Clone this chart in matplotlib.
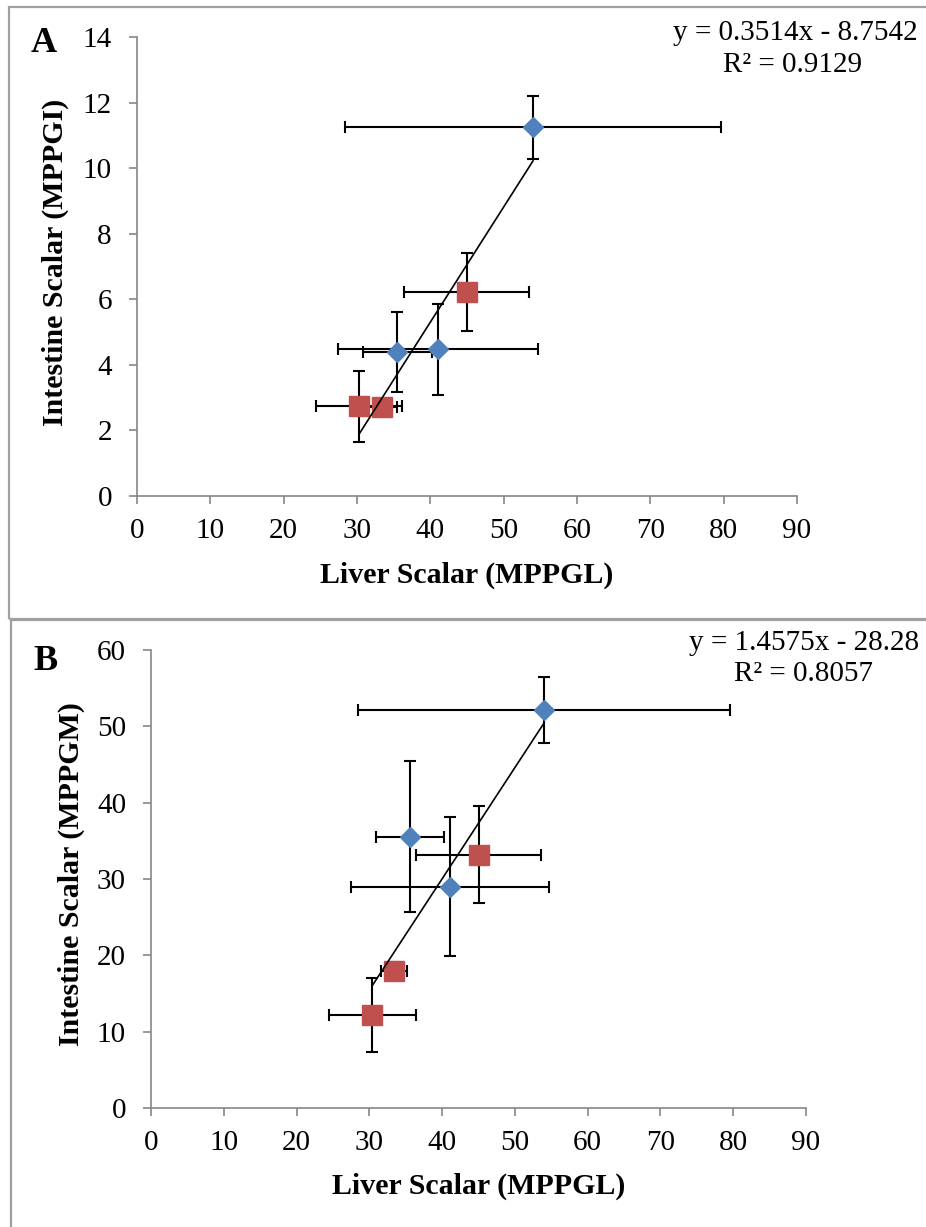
import matplotlib
matplotlib.use("Agg")
import matplotlib.pyplot as plt
from matplotlib.patches import Rectangle

plt.rcParams['font.family'] = ['Liberation Serif', 'DejaVu Serif']

# ---- data ----
# Panel A: Liver scalar (MPPGL) vs Intestine scalar (MPPGI)
a_blue_x = [54.0, 35.5, 41.05]
a_blue_xerr = [25.7, 4.7, 13.6]
a_blue_y = [11.24, 4.40, 4.47]
a_blue_yerr = [0.95, 1.22, 1.40]
a_red_x = [44.96, 30.3, 33.4]
a_red_xerr = [8.55, 5.9, 2.0]
a_red_y = [6.22, 2.74, 2.72]
a_red_yerr = [1.18, 1.08, 0.15]
a_slope, a_intercept = 0.3514, -8.7542
a_eq = ["y = 0.3514x - 8.7542", "R² = 0.9129"]

# Panel B: Liver scalar (MPPGL) vs Intestine scalar (MPPGM)
b_blue_x = [54.0, 35.6, 41.1]
b_blue_xerr = [25.6, 4.7, 13.6]
b_blue_y = [52.1, 35.55, 29.0]
b_blue_yerr = [4.3, 9.9, 9.15]
b_red_x = [45.0, 33.4, 30.4]
b_red_xerr = [8.6, 1.8, 5.95]
b_red_y = [33.2, 17.95, 12.2]
b_red_yerr = [6.3, 1.2, 4.85]
b_slope, b_intercept = 1.4575, -28.28
b_eq = ["y = 1.4575x - 28.28", "R² = 0.8057"]

x_ticks = list(range(0, 100, 10))
a_y_ticks = list(range(0, 16, 2))
b_y_ticks = list(range(0, 70, 10))

W, H = 926, 1227
fig = plt.figure(figsize=(W / 100, H / 100), dpi=100)

BLUE = '#4F81BD'
RED = '#C0504D'
AXC = '#868686'
BOXC = '#A0A0A0'

# panel frames
fig.add_artist(Rectangle((9 / W, 1 - 619 / H), 1.0, (619 - 7) / H, transform=fig.transFigure,
                         fill=False, edgecolor=BOXC, lw=1.6))
fig.add_artist(Rectangle((11 / W, -0.05), 1.0, 0.05 + 1 - 620 / H, transform=fig.transFigure,
                         fill=False, edgecolor=BOXC, lw=1.6))


def make_axes(px_l, px_r, px_t, px_b):
    return fig.add_axes([px_l / W, 1 - px_b / H, (px_r - px_l) / W, (px_b - px_t) / H])


def draw_panel(ax, bx, bxe, by, bye, rx, rxe, ry, rye, slope, intercept, yticks, ylabel,
               ylab_x, xlab_y):
    ekw = dict(fmt='none', ecolor='black', elinewidth=1.5, capsize=4, capthick=1.5, zorder=2)
    ax.errorbar(bx, by, xerr=bxe, yerr=bye, **ekw)
    ax.errorbar(rx, ry, xerr=rxe, yerr=rye, **ekw)
    ax.plot(bx, by, linestyle='none', marker='D', ms=10.5, color=BLUE, mec=BLUE, zorder=3)
    ax.plot(rx, ry, linestyle='none', marker='s', ms=14.5, color=RED, mec=RED, zorder=3)
    allx = bx + rx
    xs = [min(allx), max(allx)]
    ax.plot(xs, [slope * v + intercept for v in xs], color='black', lw=1.2, zorder=4)
    ax.set_xlim(0, 90)
    ax.set_ylim(yticks[0], yticks[-1])
    ax.set_xticks(x_ticks)
    ax.set_yticks(yticks)
    for s in ('top', 'right'):
        ax.spines[s].set_visible(False)
    for s in ('left', 'bottom'):
        ax.spines[s].set_color(AXC)
        ax.spines[s].set_linewidth(1.2)
    ax.tick_params(axis='both', direction='out', length=6, width=1.2, color=AXC,
                   labelsize=21)
    ax.tick_params(axis='x', pad=10)
    ax.tick_params(axis='y', pad=12)
    ax.set_xlabel('Liver Scalar (MPPGL)', fontsize=21.5, fontweight='bold')
    ax.set_ylabel(ylabel, fontsize=21.5, fontweight='bold')
    ax.xaxis.set_label_coords(0.5, xlab_y)
    ax.xaxis.label.set_va('center')
    ax.yaxis.set_label_coords(ylab_x, 0.51)
    ax.yaxis.label.set_va('center')


axA = make_axes(137, 797, 37, 496)
draw_panel(axA, a_blue_x, a_blue_xerr, a_blue_y, a_blue_yerr,
           a_red_x, a_red_xerr, a_red_y, a_red_yerr, a_slope, a_intercept,
           a_y_ticks, 'Intestine Scalar (MPPGI)', -0.123, -0.172)
axB = make_axes(151, 806, 650, 1108)
draw_panel(axB, b_blue_x, b_blue_xerr, b_blue_y, b_blue_yerr,
           b_red_x, b_red_xerr, b_red_y, b_red_yerr, b_slope, b_intercept,
           b_y_ticks, 'Intestine Scalar (MPPGM)', -0.121, -0.170)

fig.text(44 / W, 1 - 43 / H, 'A', fontsize=26, fontweight='bold', ha='center', va='center')
fig.text(45 / W, 1 - 662 / H, 'B', fontsize=26, fontweight='bold', ha='center', va='center')
fig.text(795 / W, 1 - 33 / H, a_eq[0], fontsize=21, ha='center', va='center')
fig.text(793 / W, 1 - 65 / H, a_eq[1], fontsize=21, ha='center', va='center')
fig.text(804 / W, 1 - 643 / H, b_eq[0], fontsize=21, ha='center', va='center')
fig.text(804 / W, 1 - 674 / H, b_eq[1], fontsize=21, ha='center', va='center')

fig.savefig('out.png', dpi=100)
